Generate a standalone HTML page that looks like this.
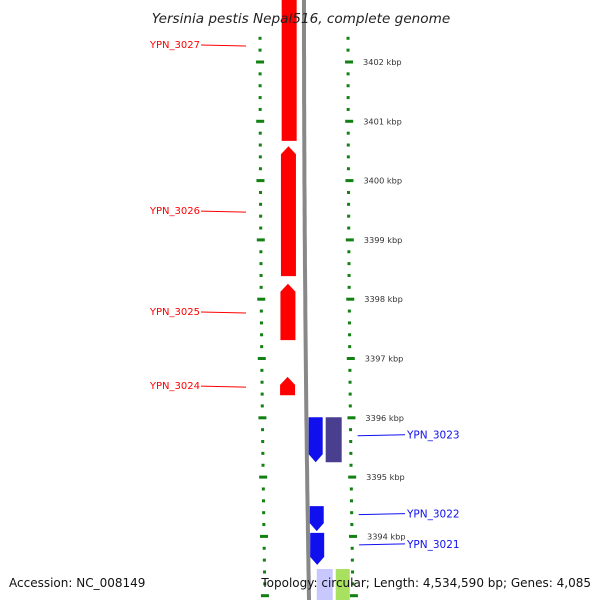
<!DOCTYPE html>
<html><head><meta charset="utf-8"><style>
body{margin:0;background:#fff;}
svg{display:block;font-family:"DejaVu Sans","Liberation Sans",sans-serif;}
</style></head><body>
<svg id="map" width="600" height="600" viewBox="0 0 600 600">
<g id="ticks"></g>
<g id="genes"></g>
<g id="labels"></g>
<text x="301" y="23" text-anchor="middle" font-size="13.6" font-style="italic" fill="#222">Yersinia pestis Nepal516, complete genome</text>
<text x="9" y="587" font-size="12" fill="#111">Accession: NC_008149</text>
<text x="591" y="587" text-anchor="end" font-size="12" fill="#111">Topology: circular; Length: 4,534,590 bp; Genes: 4,085</text>
</svg>
<script>
const kbpTicks=[3402,3401,3400,3399,3398,3397,3396,3395,3394];
const geneNames=["YPN_3027","YPN_3026","YPN_3025","YPN_3024","YPN_3023","","YPN_3022","YPN_3021",""];
const geneStart=[3403.2,3400.58,3398.26,3396.69,3396.01,3396.01,3394.51,3394.06,3393.45];
const geneEnd=[3400.67,3398.39,3397.31,3396.38,3395.25,3395.25,3394.09,3393.52,3392.9];
const geneStrand=[-1,-1,-1,-1,1,0,1,1,0];
const NS="http://www.w3.org/2000/svg";
function y(k){return 62+(3402-k)*59.3;}
function curveX(base,yy){return base+5*(yy/600)*(yy/600);}
function mk(t,a,p){const e=document.createElementNS(NS,t);for(const k in a)e.setAttribute(k,a[k]);p.appendChild(e);return e;}
const T=document.getElementById('ticks'),G=document.getElementById('genes'),L=document.getElementById('labels');
let d="";for(let yy=0;yy<=600;yy+=10){d+=(yy?"L":"M")+curveX(304,yy).toFixed(1)+" "+yy;}
const bb=mk('path',{d:d,stroke:'#888',"stroke-width":4,fill:'none'},T);


for(let k=3393;k<=3403.01;k+=0.2){
  const kk=Math.round(k*10)/10, yy=y(kk); if(yy<30||yy>600)continue;
  const major=Math.abs(kk-Math.round(kk))<0.01;
  const w=major?8:3;
  const l=mk('rect',{x:curveX(260,yy)-w/2,y:yy-1.5,width:w,height:3,fill:'#128012'},T);
  
  
  const r=mk('rect',{x:curveX(348,yy)-w/2+(major?1:0),y:yy-1.5,width:w,height:3,fill:'#128012'},T);
  
  
}
kbpTicks.forEach(k=>{const yy=y(k);
  const t=mk('text',{x:curveX(363,yy),y:yy+3,"font-size":8.2,fill:'#333'},T);t.textContent=k+" kbp";
  
  });
geneNames.forEach((n,i)=>{
  const y1=y(geneStart[i]),y2=y(geneEnd[i]),s=geneStrand[i];
  const ymid=(y1+y2)/2;
  let xc,w,col;
  if(s===-1){w=15;col='#ff0000';xc=282-2*(Math.max(ymid,0)/400);}
  else if(s===1){w=14;col='#1010ee';xc=curveX(306,ymid);}
  else {w=16;col='#4a3f8f';xc=curveX(323,ymid);}
  if(i===8){xc=curveX(312,ymid);col='#c8c8ff';}
  let p;
  if(s===-1){p=`M${xc} ${y1+8} L${xc+w/2} ${y1} L${xc+w} ${y1+8} L${xc+w} ${y2} L${xc} ${y2}Z`;}
  else if(s===1){p=`M${xc} ${y1} L${xc+w} ${y1} L${xc+w} ${y2-8} L${xc+w/2} ${y2} L${xc} ${y2-8}Z`;}
  else p=`M${xc} ${y1} L${xc+w} ${y1} L${xc+w} ${y2} L${xc} ${y2}Z`;
  const g=mk('path',{d:p,fill:col},G);
  
  
  if(i===8){const gg=mk('rect',{x:xc+19,y:y1,width:14,height:y2-y1,fill:'#a8e060'},G);
    
    }
  if(!n)return;
  if(s===-1){
    const ly=i===0?45:ymid;
    const ln=mk('line',{x1:201,y1:ly,x2:246,y2:ly+1,stroke:'#ff0000'},L);
    
    
    const t=mk('text',{x:200,y:ly+3,"text-anchor":"end","font-size":10,fill:'#ff0000'},L);t.textContent=n;
    
    
  } else {
    const ly=ymid-5;
    const ln=mk('line',{x1:curveX(355,ly),y1:ly+1,x2:405,y2:ly,stroke:'#1010ee'},L);
    
    
    const t=mk('text',{x:407,y:ly+4,"font-size":10.5,fill:'#1010ee'},L);t.textContent=n;
    
    
  }
});
</script>
</body></html>
